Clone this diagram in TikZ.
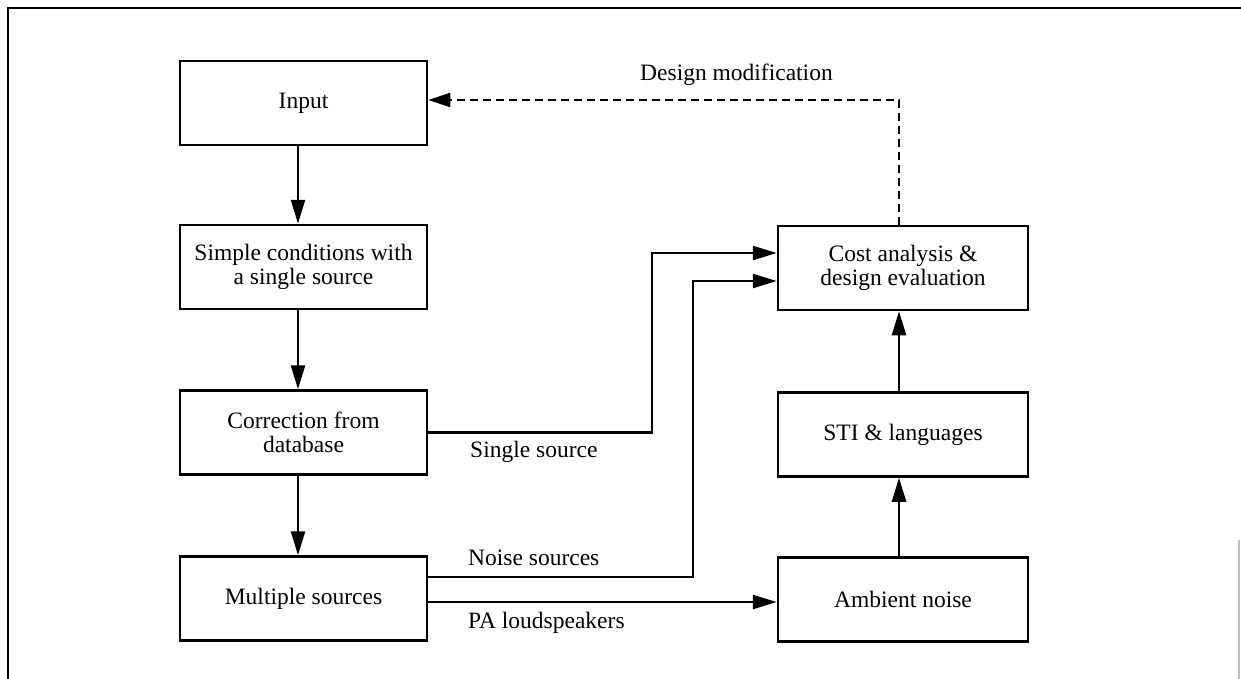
\documentclass[tikz,border=0pt]{standalone}
\usepackage{fontspec}
\setmainfont{Liberation Serif}
\usetikzlibrary{arrows.meta}
\begin{document}
\begin{tikzpicture}[x=1pt,y=-1pt,
  box/.style={draw,line width=2.5pt,minimum width=247pt,minimum height=84pt,align=center,inner sep=0pt,font=\fontsize{23.5}{24}\selectfont},
  rbox/.style={box,minimum width=250pt},
  lbl/.style={font=\fontsize{23.5}{24}\selectfont,inner sep=0pt,anchor=west},
  arr/.style={line width=2.4pt,-{Triangle[length=24pt,width=14pt]}},
  darr/.style={line width=1.8pt,dash pattern=on 8pt off 5pt,-{Triangle[length=22pt,width=14pt]}}]
\useasboundingbox (0,0) rectangle (1241,679);
\draw[line width=2pt] (1241,8) -- (8,8) -- (8,679);
\draw[line width=1.5pt,black!25] (1239,540) -- (1239,679);
% nodes
\node[box] (in) at (303.5,103) {Input};
\node[box] (sc) at (303.5,267) {Simple conditions with\\a single source};
\node[box] (cd) at (303.5,432.5) {Correction from\\database};
\node[box] (ms) at (303.5,598.5) {Multiple sources};
\node[rbox] (ca) at (903,268) {Cost analysis \&\\design evaluation};
\node[rbox] (sti) at (903,434.5) {STI \& languages};
\node[rbox] (an) at (903,599.5) {Ambient noise};
% helper coordinates
\coordinate (lx) at (298,0);
\coordinate (rx) at (899,0);
\coordinate (dm) at (899,100);
\coordinate (s1) at (652,253);
\coordinate (n1) at (693,281);
\coordinate (nsy) at (0,577);
\coordinate (pay) at (0,602);
% vertical arrows
\draw[arr] (in.south -| lx) -- (sc.north -| lx);
\draw[arr] (sc.south -| lx) -- (cd.north -| lx);
\draw[arr] (cd.south -| lx) -- (ms.north -| lx);
\draw[arr] (an.north -| rx) -- (sti.south -| rx);
\draw[arr] (sti.north -| rx) -- (ca.south -| rx);
% feedback
\draw[darr] (ca.north -| rx) -- (dm) -- (in.east |- dm);
% side connectors
\draw[arr] (cd.east) -- (cd.east -| s1) -- (s1) -- (s1 -| ca.west);
\draw[arr] (ms.east |- nsy) -- (n1 |- nsy) -- (n1) -- (n1 -| ca.west);
\draw[arr] (ms.east |- pay) -- (an.west |- pay);
% labels
\node[lbl] (l1) at (640,75) {Design modification};
\node[lbl] (l2) at (470,452) {Single source};
\node[lbl] (l3) at (468,558) {Noise sources};
\node[lbl] (l4) at (468,623) {PA loudspeakers};
\end{tikzpicture}
\end{document}
